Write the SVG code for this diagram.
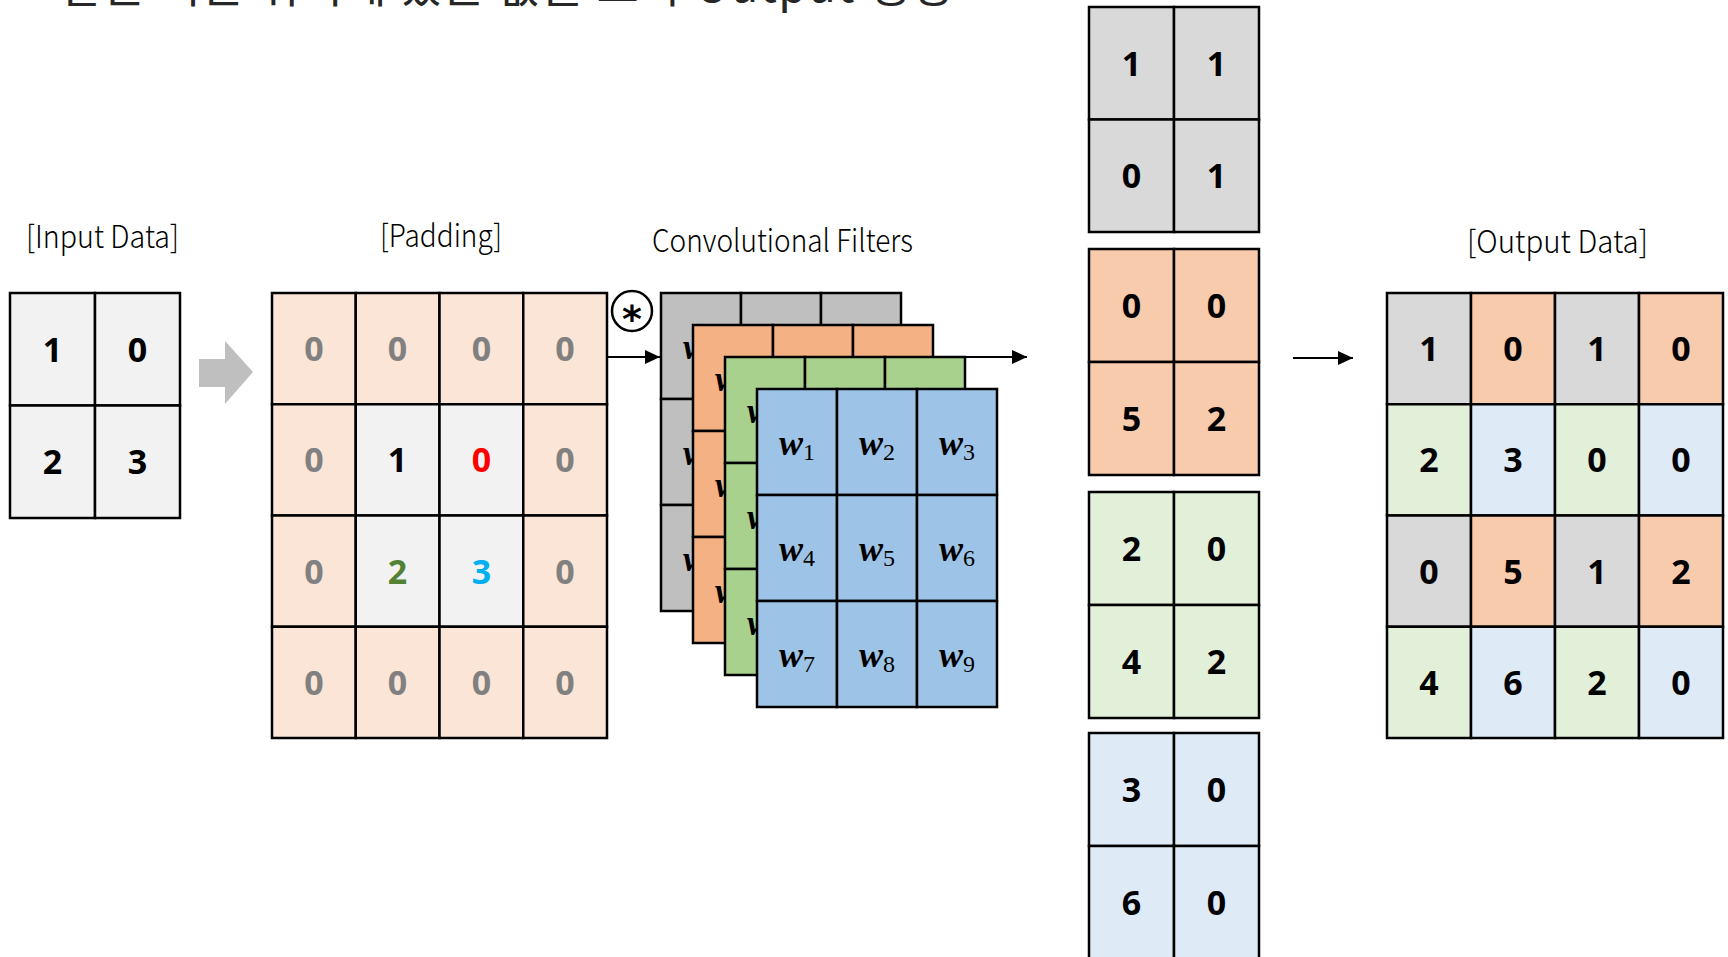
<svg xmlns="http://www.w3.org/2000/svg" width="1728" height="957" viewBox="0 0 1728 957">
<defs>
<style>
.c{stroke:#000;stroke-width:2.5}
.g1{fill:#f2f2f2}
.pd{fill:#fbe5d6}
.fg{fill:#bfbfbf}.fo{fill:#f4b183}.fgr{fill:#a9d18e}.fb{fill:#9dc3e6}
.mg{fill:#d9d9d9}.mo{fill:#f8cbad}.mgr{fill:#e2f0d9}.mb{fill:#deebf7}
.n{font-family:"Noto Sans","Liberation Sans",sans-serif;font-weight:700;font-size:34px;text-anchor:middle;fill:#000}
.n.z{fill:#808080}
.n.red{fill:#ff0000}
.n.grn{fill:#548235}
.n.blu{fill:#00b0f0}
.lbl{font-family:"Noto Sans CJK KR","Noto Sans",sans-serif;font-weight:300;font-size:31px;fill:#000}
.w{font-family:"Liberation Serif","DejaVu Serif",serif;font-size:36px;text-anchor:middle;fill:#000}
.wi{font-weight:700;font-style:italic}
.ws{font-size:24px}
.ar{stroke:#000;stroke-width:2;fill:none;marker-end:url(#ah)}
</style>
<marker id="ah" markerUnits="userSpaceOnUse" viewBox="0 0 15 14" refX="15" refY="7" markerWidth="15" markerHeight="14" orient="auto"><path d="M0,0 L15,7 L0,14 z" fill="#000"/></marker>
</defs>
<rect width="1728" height="957" fill="#fff"/>

<text id="title" x="60" y="2" font-family="Noto Sans CJK KR, Noto Sans, sans-serif" font-size="46" fill="#262626" textLength="893" lengthAdjust="spacing">같은 기준 위치에 있는 값을 모아 Output 생성</text>

<g id="input">
<text class="lbl" x="26" y="248" textLength="153" lengthAdjust="spacingAndGlyphs">[Input Data]</text>
<rect class="c g1" x="10" y="293" width="85" height="112.5"/>
<rect class="c g1" x="95" y="293" width="85" height="112.5"/>
<rect class="c g1" x="10" y="405.5" width="85" height="112.5"/>
<rect class="c g1" x="95" y="405.5" width="85" height="112.5"/>
<text class="n" x="52.5" y="362">1</text>
<text class="n" x="137.5" y="362">0</text>
<text class="n" x="52.5" y="474">2</text>
<text class="n" x="137.5" y="474">3</text>
</g>

<g id="padding">
<text class="lbl" x="380" y="247" textLength="122" lengthAdjust="spacingAndGlyphs">[Padding]</text>
<rect class="c pd" x="272" y="293" width="83.75" height="111.25"/>
<rect class="c pd" x="355.75" y="293" width="83.75" height="111.25"/>
<rect class="c pd" x="439.5" y="293" width="83.75" height="111.25"/>
<rect class="c pd" x="523.25" y="293" width="83.75" height="111.25"/>
<rect class="c pd" x="272" y="404.25" width="83.75" height="111.25"/>
<rect class="c g1" x="355.75" y="404.25" width="83.75" height="111.25"/>
<rect class="c g1" x="439.5" y="404.25" width="83.75" height="111.25"/>
<rect class="c pd" x="523.25" y="404.25" width="83.75" height="111.25"/>
<rect class="c pd" x="272" y="515.5" width="83.75" height="111.25"/>
<rect class="c g1" x="355.75" y="515.5" width="83.75" height="111.25"/>
<rect class="c g1" x="439.5" y="515.5" width="83.75" height="111.25"/>
<rect class="c pd" x="523.25" y="515.5" width="83.75" height="111.25"/>
<rect class="c pd" x="272" y="626.75" width="83.75" height="111.25"/>
<rect class="c pd" x="355.75" y="626.75" width="83.75" height="111.25"/>
<rect class="c pd" x="439.5" y="626.75" width="83.75" height="111.25"/>
<rect class="c pd" x="523.25" y="626.75" width="83.75" height="111.25"/>
<text class="n z" x="313.9" y="361">0</text>
<text class="n z" x="397.6" y="361">0</text>
<text class="n z" x="481.4" y="361">0</text>
<text class="n z" x="565.1" y="361">0</text>
<text class="n z" x="313.9" y="472.4">0</text>
<text class="n" x="397.6" y="472.4">1</text>
<text class="n red" x="481.4" y="472.4">0</text>
<text class="n z" x="565.1" y="472.4">0</text>
<text class="n z" x="313.9" y="583.6">0</text>
<text class="n grn" x="397.6" y="583.6">2</text>
<text class="n blu" x="481.4" y="583.6">3</text>
<text class="n z" x="565.1" y="583.6">0</text>
<text class="n z" x="313.9" y="694.9">0</text>
<text class="n z" x="397.6" y="694.9">0</text>
<text class="n z" x="481.4" y="694.9">0</text>
<text class="n z" x="565.1" y="694.9">0</text>
</g>

<g id="conv-operator">
<circle cx="632" cy="311" r="20" fill="#fff" stroke="#000" stroke-width="2.5"/>
<text x="632" y="332" font-family="DejaVu Sans, sans-serif" font-weight="700" font-size="38" text-anchor="middle" fill="#000">*</text>
</g>

<g id="filters">
<text class="lbl" x="652" y="252" textLength="261" lengthAdjust="spacingAndGlyphs">Convolutional Filters</text>
<g id="filter-gray">
<rect class="c fg" x="661" y="293" width="80" height="106"/><rect class="c fg" x="741" y="293" width="80" height="106"/><rect class="c fg" x="821" y="293" width="80" height="106"/>
<rect class="c fg" x="661" y="399" width="80" height="106"/><rect class="c fg" x="741" y="399" width="80" height="106"/><rect class="c fg" x="821" y="399" width="80" height="106"/>
<rect class="c fg" x="661" y="505" width="80" height="106"/><rect class="c fg" x="741" y="505" width="80" height="106"/><rect class="c fg" x="821" y="505" width="80" height="106"/>
<text class="w" x="701" y="359"><tspan class="wi">w</tspan><tspan class="ws" dy="5">1</tspan></text>
<text class="w" x="701" y="465"><tspan class="wi">w</tspan><tspan class="ws" dy="5">4</tspan></text>
<text class="w" x="701" y="571"><tspan class="wi">w</tspan><tspan class="ws" dy="5">7</tspan></text>
</g>
<g id="filter-orange">
<rect class="c fo" x="693" y="325" width="80" height="106"/><rect class="c fo" x="773" y="325" width="80" height="106"/><rect class="c fo" x="853" y="325" width="80" height="106"/>
<rect class="c fo" x="693" y="431" width="80" height="106"/><rect class="c fo" x="773" y="431" width="80" height="106"/><rect class="c fo" x="853" y="431" width="80" height="106"/>
<rect class="c fo" x="693" y="537" width="80" height="106"/><rect class="c fo" x="773" y="537" width="80" height="106"/><rect class="c fo" x="853" y="537" width="80" height="106"/>
<text class="w" x="733" y="391"><tspan class="wi">w</tspan><tspan class="ws" dy="5">1</tspan></text>
<text class="w" x="733" y="497"><tspan class="wi">w</tspan><tspan class="ws" dy="5">4</tspan></text>
<text class="w" x="733" y="603"><tspan class="wi">w</tspan><tspan class="ws" dy="5">7</tspan></text>
</g>
<g id="filter-green">
<rect class="c fgr" x="725" y="357" width="80" height="106"/><rect class="c fgr" x="805" y="357" width="80" height="106"/><rect class="c fgr" x="885" y="357" width="80" height="106"/>
<rect class="c fgr" x="725" y="463" width="80" height="106"/><rect class="c fgr" x="805" y="463" width="80" height="106"/><rect class="c fgr" x="885" y="463" width="80" height="106"/>
<rect class="c fgr" x="725" y="569" width="80" height="106"/><rect class="c fgr" x="805" y="569" width="80" height="106"/><rect class="c fgr" x="885" y="569" width="80" height="106"/>
<text class="w" x="765" y="423"><tspan class="wi">w</tspan><tspan class="ws" dy="5">1</tspan></text>
<text class="w" x="765" y="529"><tspan class="wi">w</tspan><tspan class="ws" dy="5">4</tspan></text>
<text class="w" x="765" y="635"><tspan class="wi">w</tspan><tspan class="ws" dy="5">7</tspan></text>
</g>
<g id="filter-blue">
<rect class="c fb" x="757" y="389" width="80" height="106"/><rect class="c fb" x="837" y="389" width="80" height="106"/><rect class="c fb" x="917" y="389" width="80" height="106"/>
<rect class="c fb" x="757" y="495" width="80" height="106"/><rect class="c fb" x="837" y="495" width="80" height="106"/><rect class="c fb" x="917" y="495" width="80" height="106"/>
<rect class="c fb" x="757" y="601" width="80" height="106"/><rect class="c fb" x="837" y="601" width="80" height="106"/><rect class="c fb" x="917" y="601" width="80" height="106"/>
<text class="w" x="797" y="455"><tspan class="wi">w</tspan><tspan class="ws" dy="5">1</tspan></text>
<text class="w" x="877" y="455"><tspan class="wi">w</tspan><tspan class="ws" dy="5">2</tspan></text>
<text class="w" x="957" y="455"><tspan class="wi">w</tspan><tspan class="ws" dy="5">3</tspan></text>
<text class="w" x="797" y="561"><tspan class="wi">w</tspan><tspan class="ws" dy="5">4</tspan></text>
<text class="w" x="877" y="561"><tspan class="wi">w</tspan><tspan class="ws" dy="5">5</tspan></text>
<text class="w" x="957" y="561"><tspan class="wi">w</tspan><tspan class="ws" dy="5">6</tspan></text>
<text class="w" x="797" y="667"><tspan class="wi">w</tspan><tspan class="ws" dy="5">7</tspan></text>
<text class="w" x="877" y="667"><tspan class="wi">w</tspan><tspan class="ws" dy="5">8</tspan></text>
<text class="w" x="957" y="667"><tspan class="wi">w</tspan><tspan class="ws" dy="5">9</tspan></text>
</g>
</g>

<g id="channel-gray">
<rect class="c mg" x="1089" y="7" width="85" height="112.5"/><rect class="c mg" x="1174" y="7" width="85" height="112.5"/>
<rect class="c mg" x="1089" y="119.5" width="85" height="112.5"/><rect class="c mg" x="1174" y="119.5" width="85" height="112.5"/>
<text class="n" x="1131.5" y="76">1</text><text class="n" x="1216.5" y="76">1</text>
<text class="n" x="1131.5" y="188">0</text><text class="n" x="1216.5" y="188">1</text>
</g>
<g id="channel-orange">
<rect class="c mo" x="1089" y="249" width="85" height="113"/><rect class="c mo" x="1174" y="249" width="85" height="113"/>
<rect class="c mo" x="1089" y="362" width="85" height="113"/><rect class="c mo" x="1174" y="362" width="85" height="113"/>
<text class="n" x="1131.5" y="318">0</text><text class="n" x="1216.5" y="318">0</text>
<text class="n" x="1131.5" y="431">5</text><text class="n" x="1216.5" y="431">2</text>
</g>
<g id="channel-green">
<rect class="c mgr" x="1089" y="492" width="85" height="113"/><rect class="c mgr" x="1174" y="492" width="85" height="113"/>
<rect class="c mgr" x="1089" y="605" width="85" height="113"/><rect class="c mgr" x="1174" y="605" width="85" height="113"/>
<text class="n" x="1131.5" y="561">2</text><text class="n" x="1216.5" y="561">0</text>
<text class="n" x="1131.5" y="674">4</text><text class="n" x="1216.5" y="674">2</text>
</g>
<g id="channel-blue">
<rect class="c mb" x="1089" y="733" width="85" height="113"/><rect class="c mb" x="1174" y="733" width="85" height="113"/>
<rect class="c mb" x="1089" y="846" width="85" height="113"/><rect class="c mb" x="1174" y="846" width="85" height="113"/>
<text class="n" x="1131.5" y="802">3</text><text class="n" x="1216.5" y="802">0</text>
<text class="n" x="1131.5" y="915">6</text><text class="n" x="1216.5" y="915">0</text>
</g>

<g id="output">
<text class="lbl" x="1467" y="253" textLength="181" lengthAdjust="spacingAndGlyphs">[Output Data]</text>
<rect class="c mg" x="1387" y="293" width="84" height="111.25"/><rect class="c mo" x="1471" y="293" width="84" height="111.25"/><rect class="c mg" x="1555" y="293" width="84" height="111.25"/><rect class="c mo" x="1639" y="293" width="84" height="111.25"/>
<rect class="c mgr" x="1387" y="404.25" width="84" height="111.25"/><rect class="c mb" x="1471" y="404.25" width="84" height="111.25"/><rect class="c mgr" x="1555" y="404.25" width="84" height="111.25"/><rect class="c mb" x="1639" y="404.25" width="84" height="111.25"/>
<rect class="c mg" x="1387" y="515.5" width="84" height="111.25"/><rect class="c mo" x="1471" y="515.5" width="84" height="111.25"/><rect class="c mg" x="1555" y="515.5" width="84" height="111.25"/><rect class="c mo" x="1639" y="515.5" width="84" height="111.25"/>
<rect class="c mgr" x="1387" y="626.75" width="84" height="111.25"/><rect class="c mb" x="1471" y="626.75" width="84" height="111.25"/><rect class="c mgr" x="1555" y="626.75" width="84" height="111.25"/><rect class="c mb" x="1639" y="626.75" width="84" height="111.25"/>
<text class="n" x="1429" y="361">1</text><text class="n" x="1513" y="361">0</text><text class="n" x="1597" y="361">1</text><text class="n" x="1681" y="361">0</text>
<text class="n" x="1429" y="472.4">2</text><text class="n" x="1513" y="472.4">3</text><text class="n" x="1597" y="472.4">0</text><text class="n" x="1681" y="472.4">0</text>
<text class="n" x="1429" y="583.6">0</text><text class="n" x="1513" y="583.6">5</text><text class="n" x="1597" y="583.6">1</text><text class="n" x="1681" y="583.6">2</text>
<text class="n" x="1429" y="694.9">4</text><text class="n" x="1513" y="694.9">6</text><text class="n" x="1597" y="694.9">2</text><text class="n" x="1681" y="694.9">0</text>
</g>

<g id="connectors">
<polygon points="199,359 225,359 225,341 253,372 225,404 225,387 199,387" fill="#bfbfbf"/>
<line class="ar" x1="608" y1="357" x2="660" y2="357"/>
<line class="ar" x1="965" y1="357" x2="1027" y2="357"/>
<line class="ar" x1="1293" y1="358" x2="1353" y2="358"/>
</g>
</svg>
